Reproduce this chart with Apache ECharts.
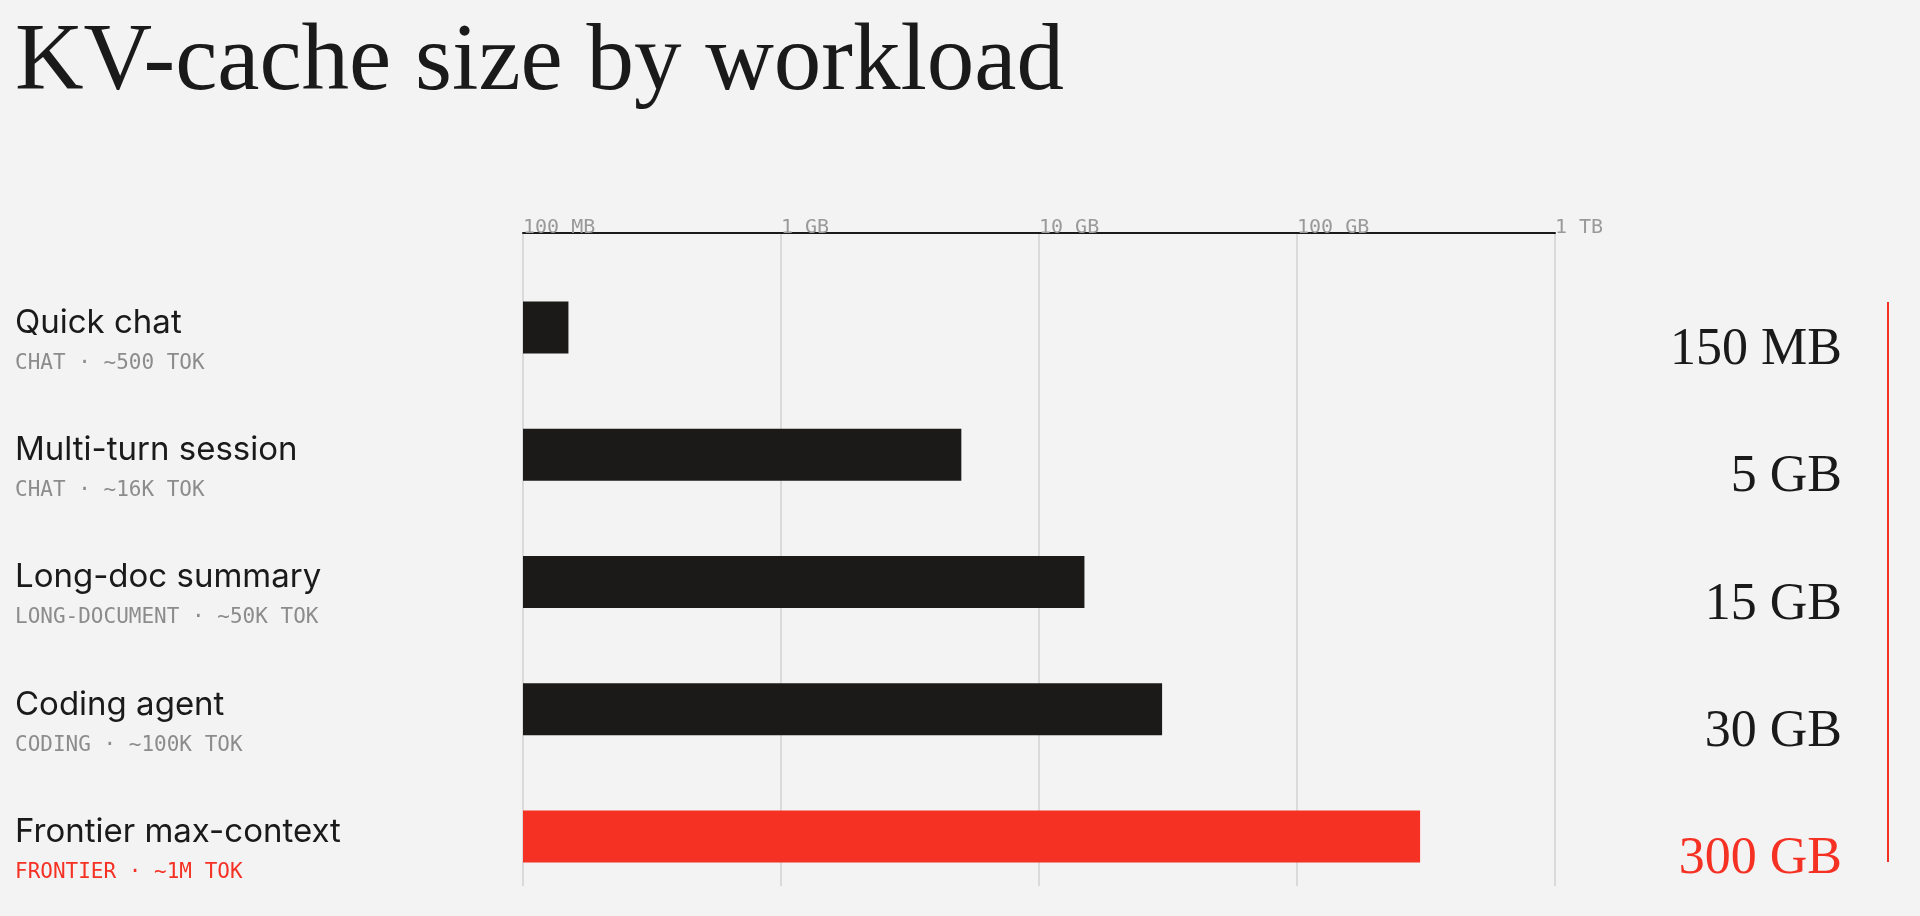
<!DOCTYPE html>
<html>
<head>
<meta charset="utf-8">
<script src="https://cdn.jsdelivr.net/npm/echarts@6/dist/echarts.min.js"></script>
<style>
html,body{margin:0;padding:0;background:#f3f3f3;}
#c{width:1920px;height:916px;}
</style>
</head>
<body>
<div id="c"></div>
<script>
// ---- data ----
const workloads = ['Quick chat', 'Multi-turn session', 'Long-doc summary', 'Coding agent', 'Frontier max-context'];
const subLabels = ['CHAT · ~500 TOK', 'CHAT · ~16K TOK', 'LONG-DOCUMENT · ~50K TOK', 'CODING · ~100K TOK', 'FRONTIER · ~1M TOK'];
const sizeMB = [150, 5000, 15000, 30000, 300000];
const sizeLabels = ['150 MB', '5 GB', '15 GB', '30 GB', '300 GB'];
const highlight = [false, false, false, false, true];
const tickValues = [100, 1000, 10000, 100000, 1000000];
const tickLabels = ['100 MB', '1 GB', '10 GB', '100 GB', '1 TB'];

const RED = '#f53124';
const DARK = '#1b1a18';

const chart = echarts.init(document.getElementById('c'), null, {renderer: 'canvas'});

const left = 523, right = 1920 - 1555;

const option = {
  backgroundColor: '#f3f3f3',
  animation: false,
  title: {
    text: 'KV-cache size by workload',
    left: 15, top: 17, padding: 0,
    textStyle: {fontFamily: 'Liberation Serif', fontSize: 95, fontWeight: 'normal', color: '#1a1a1a'}
  },
  grid: [
    {left: left, right: right, top: 233, bottom: 30},
    {left: left, right: right, top: 264, height: 636}
  ],
  xAxis: [
    {
      gridIndex: 0, type: 'log', logBase: 10, min: 100, max: 1000000, position: 'top',
      axisLine: {show: true, lineStyle: {color: '#1a1a1a', width: 2}},
      axisTick: {show: false},
      splitLine: {show: true, lineStyle: {color: '#d2d2d2', width: 1.5}},
      axisLabel: {
        show: true, align: 'left', verticalAlign: 'bottom', margin: -5,
        fontFamily: 'DejaVu Sans Mono', fontSize: 20, color: '#999999',
        formatter: function (v) {
          const i = tickValues.findIndex(t => Math.abs(Math.log10(t) - Math.log10(v)) < 1e-6);
          return i >= 0 ? tickLabels[i] : '';
        }
      }
    },
    {
      gridIndex: 1, type: 'log', logBase: 10, min: 100, max: 1000000, show: false,
      splitLine: {show: false}
    }
  ],
  yAxis: [
    {gridIndex: 0, type: 'category', data: workloads, show: false},
    {
      gridIndex: 1, type: 'category', data: workloads, inverse: true, position: 'left',
      axisLine: {show: false}, axisTick: {show: false}, splitLine: {show: false},
      axisLabel: {
        align: 'left', margin: left - 15, padding: [32, 0, 0, 0],
        formatter: function (v, i) {
          return '{n|' + v + '}\n{' + (highlight[i] ? 'r' : 's') + '|' + subLabels[i] + '}';
        },
        rich: {
          n: {fontFamily: 'Inter', fontSize: 33, color: '#1a1a1a', lineHeight: 40},
          s: {fontFamily: 'DejaVu Sans Mono', fontSize: 21, color: '#8c8c8c', lineHeight: 41},
          r: {fontFamily: 'DejaVu Sans Mono', fontSize: 21, color: RED, lineHeight: 41}
        }
      }
    },
    {
      gridIndex: 1, type: 'category', data: workloads, inverse: true, position: 'right',
      axisLine: {show: false}, axisTick: {show: false}, splitLine: {show: false},
      axisLabel: {
        align: 'right', margin: 1842 - 1555, padding: [46, 0, 0, 0],
        formatter: function (v, i) {
          return '{' + (highlight[i] ? 'r' : 'd') + '|' + sizeLabels[i] + '}';
        },
        rich: {
          d: {fontFamily: 'Liberation Serif', fontSize: 52, color: '#1a1a1a'},
          r: {fontFamily: 'Liberation Serif', fontSize: 52, color: RED}
        }
      }
    }
  ],
  series: [
    {
      type: 'bar', xAxisIndex: 1, yAxisIndex: 1, barWidth: 52,
      data: sizeMB.map((v, i) => ({value: v, itemStyle: {color: highlight[i] ? RED : DARK}}))
    }
  ],
  graphic: [
    {type: 'line', shape: {x1: 1888, y1: 302, x2: 1888, y2: 862}, style: {stroke: RED, lineWidth: 2}}
  ]
};
chart.setOption(option);
</script>
</body>
</html>
